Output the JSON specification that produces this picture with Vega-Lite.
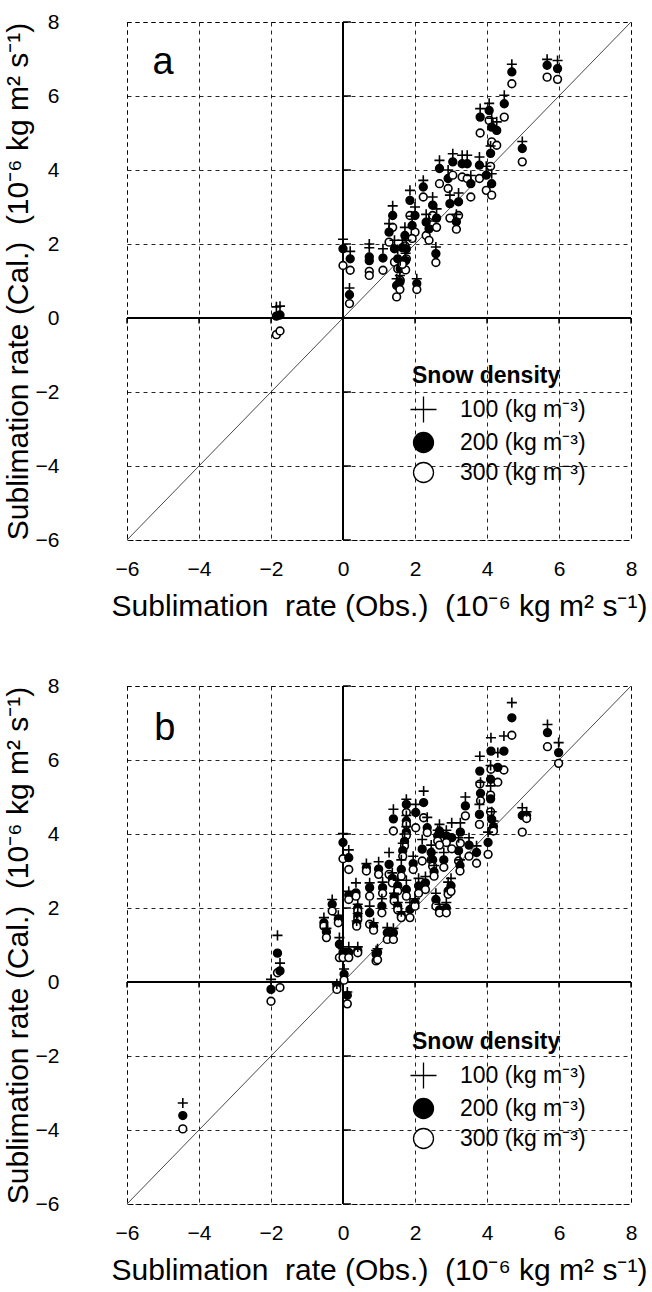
{
  "$schema": "https://vega.github.io/schema/vega-lite/v6.json",
  "background": "white",
  "padding": {"left": 2, "top": 10, "right": 0, "bottom": 0},
  "config": {
    "font": "Liberation Sans",
    "view": {"stroke": "black", "strokeDash": [4, 4], "strokeWidth": 1},
    "axis": {
      "grid": true, "gridColor": "black", "gridDash": [4, 4], "gridWidth": 1, "gridOpacity": 0.85,
      "domain": false, "ticks": false, "labelFlush": false,
      "labelFont": "Liberation Sans", "labelFontSize": 21, "labelColor": "black",
      "titleFont": "Liberation Sans", "titleFontWeight": "normal", "titleColor": "black"
    },
    "legend": {
      "titleFont": "Liberation Sans", "titleFontSize": 23, "titleFontWeight": "bold", "titleColor": "black",
      "labelFont": "Liberation Sans", "labelFontSize": 23, "labelColor": "black",
      "symbolSize": 400, "symbolStrokeWidth": 1.3, "symbolStrokeColor": "black",
      "rowPadding": 3, "labelOffset": 25, "titlePadding": 10, "padding": 0
    }
  },
  "datasets": {
    "one": [{}],
    "diag": [{"v": -6}, {"v": 8}],
    "ticks": [{"t": -6}, {"t": -4}, {"t": -2}, {"t": 0}, {"t": 2}, {"t": 4}, {"t": 6}, {"t": 8}],
    "a": [
      {"obs": -1.85, "rho": "100", "cal": 0.3}, {"obs": -1.85, "rho": "200", "cal": 0.05}, {"obs": -1.85, "rho": "300", "cal": -0.45},
      {"obs": -1.75, "rho": "100", "cal": 0.32}, {"obs": -1.75, "rho": "200", "cal": 0.08}, {"obs": -1.75, "rho": "300", "cal": -0.35},
      {"obs": 0.0, "rho": "100", "cal": 2.13}, {"obs": 0.0, "rho": "200", "cal": 1.87}, {"obs": 0.0, "rho": "300", "cal": 1.42},
      {"obs": 0.2, "rho": "100", "cal": 1.8}, {"obs": 0.2, "rho": "200", "cal": 1.6}, {"obs": 0.2, "rho": "300", "cal": 1.29},
      {"obs": 0.18, "rho": "100", "cal": 0.81}, {"obs": 0.18, "rho": "200", "cal": 0.63}, {"obs": 0.18, "rho": "300", "cal": 0.39},
      {"obs": 0.73, "rho": "100", "cal": 2.0}, {"obs": 0.73, "rho": "200", "cal": 1.65}, {"obs": 0.73, "rho": "300", "cal": 1.26},
      {"obs": 0.73, "rho": "100", "cal": 1.9}, {"obs": 0.73, "rho": "200", "cal": 1.55}, {"obs": 0.73, "rho": "300", "cal": 1.15},
      {"obs": 1.11, "rho": "100", "cal": 1.87}, {"obs": 1.11, "rho": "200", "cal": 1.62}, {"obs": 1.11, "rho": "300", "cal": 1.29},
      {"obs": 1.38, "rho": "100", "cal": 3.03}, {"obs": 1.38, "rho": "200", "cal": 2.77}, {"obs": 1.38, "rho": "300", "cal": 2.45},
      {"obs": 1.28, "rho": "100", "cal": 2.55}, {"obs": 1.28, "rho": "200", "cal": 2.32}, {"obs": 1.28, "rho": "300", "cal": 2.05},
      {"obs": 1.43, "rho": "100", "cal": 2.1}, {"obs": 1.43, "rho": "200", "cal": 1.87}, {"obs": 1.43, "rho": "300", "cal": 1.51},
      {"obs": 1.52, "rho": "100", "cal": 1.85}, {"obs": 1.52, "rho": "200", "cal": 1.6}, {"obs": 1.52, "rho": "300", "cal": 1.33},
      {"obs": 1.59, "rho": "100", "cal": 1.55}, {"obs": 1.59, "rho": "200", "cal": 1.33}, {"obs": 1.59, "rho": "300", "cal": 1.02},
      {"obs": 1.49, "rho": "100", "cal": 1.06}, {"obs": 1.49, "rho": "200", "cal": 0.88}, {"obs": 1.49, "rho": "300", "cal": 0.57},
      {"obs": 1.58, "rho": "100", "cal": 1.15}, {"obs": 1.58, "rho": "200", "cal": 0.97}, {"obs": 1.58, "rho": "300", "cal": 0.77},
      {"obs": 1.72, "rho": "100", "cal": 2.45}, {"obs": 1.72, "rho": "200", "cal": 2.23}, {"obs": 1.72, "rho": "300", "cal": 1.95},
      {"obs": 1.86, "rho": "100", "cal": 3.45}, {"obs": 1.86, "rho": "200", "cal": 3.18}, {"obs": 1.86, "rho": "300", "cal": 2.77},
      {"obs": 1.76, "rho": "100", "cal": 2.1}, {"obs": 1.76, "rho": "200", "cal": 1.87}, {"obs": 1.76, "rho": "300", "cal": 1.6},
      {"obs": 1.74, "rho": "100", "cal": 1.75}, {"obs": 1.74, "rho": "200", "cal": 1.55}, {"obs": 1.74, "rho": "300", "cal": 1.3},
      {"obs": 2.0, "rho": "100", "cal": 3.0}, {"obs": 2.0, "rho": "200", "cal": 2.77}, {"obs": 2.0, "rho": "300", "cal": 2.32},
      {"obs": 2.23, "rho": "100", "cal": 3.72}, {"obs": 2.23, "rho": "200", "cal": 3.54}, {"obs": 2.23, "rho": "300", "cal": 3.27},
      {"obs": 2.05, "rho": "100", "cal": 1.06}, {"obs": 2.05, "rho": "200", "cal": 0.93}, {"obs": 2.05, "rho": "300", "cal": 0.77},
      {"obs": 2.31, "rho": "100", "cal": 2.8}, {"obs": 2.31, "rho": "200", "cal": 2.59}, {"obs": 2.31, "rho": "300", "cal": 2.23},
      {"obs": 2.49, "rho": "100", "cal": 3.27}, {"obs": 2.49, "rho": "200", "cal": 3.05}, {"obs": 2.49, "rho": "300", "cal": 2.77},
      {"obs": 2.39, "rho": "100", "cal": 2.62}, {"obs": 2.39, "rho": "200", "cal": 2.41}, {"obs": 2.39, "rho": "300", "cal": 2.1},
      {"obs": 2.58, "rho": "100", "cal": 1.92}, {"obs": 2.58, "rho": "200", "cal": 1.74}, {"obs": 2.58, "rho": "300", "cal": 1.5},
      {"obs": 2.68, "rho": "100", "cal": 4.26}, {"obs": 2.68, "rho": "200", "cal": 4.04}, {"obs": 2.68, "rho": "300", "cal": 3.63},
      {"obs": 2.92, "rho": "100", "cal": 4.0}, {"obs": 2.92, "rho": "200", "cal": 3.77}, {"obs": 2.92, "rho": "300", "cal": 3.5},
      {"obs": 2.97, "rho": "100", "cal": 3.32}, {"obs": 2.97, "rho": "200", "cal": 3.09}, {"obs": 2.97, "rho": "300", "cal": 2.7},
      {"obs": 3.05, "rho": "100", "cal": 4.44}, {"obs": 3.05, "rho": "200", "cal": 4.22}, {"obs": 3.05, "rho": "300", "cal": 3.86},
      {"obs": 3.21, "rho": "100", "cal": 3.38}, {"obs": 3.21, "rho": "200", "cal": 3.14}, {"obs": 3.21, "rho": "300", "cal": 2.77},
      {"obs": 3.15, "rho": "100", "cal": 2.8}, {"obs": 3.15, "rho": "200", "cal": 2.6}, {"obs": 3.15, "rho": "300", "cal": 2.4},
      {"obs": 3.31, "rho": "100", "cal": 4.4}, {"obs": 3.31, "rho": "200", "cal": 4.17}, {"obs": 3.31, "rho": "300", "cal": 3.81},
      {"obs": 3.45, "rho": "100", "cal": 4.4}, {"obs": 3.45, "rho": "200", "cal": 4.17}, {"obs": 3.45, "rho": "300", "cal": 3.77},
      {"obs": 3.55, "rho": "100", "cal": 3.85}, {"obs": 3.55, "rho": "200", "cal": 3.63}, {"obs": 3.55, "rho": "300", "cal": 3.27},
      {"obs": 3.79, "rho": "100", "cal": 4.35}, {"obs": 3.79, "rho": "200", "cal": 4.13}, {"obs": 3.79, "rho": "300", "cal": 3.77},
      {"obs": 3.98, "rho": "100", "cal": 4.1}, {"obs": 3.98, "rho": "200", "cal": 3.86}, {"obs": 3.98, "rho": "300", "cal": 3.45},
      {"obs": 4.13, "rho": "100", "cal": 3.9}, {"obs": 4.13, "rho": "200", "cal": 3.63}, {"obs": 4.13, "rho": "300", "cal": 3.32},
      {"obs": 3.81, "rho": "100", "cal": 5.66}, {"obs": 3.81, "rho": "200", "cal": 5.43}, {"obs": 3.81, "rho": "300", "cal": 5.0},
      {"obs": 4.06, "rho": "100", "cal": 5.8}, {"obs": 4.06, "rho": "200", "cal": 5.61}, {"obs": 4.06, "rho": "300", "cal": 5.34},
      {"obs": 4.13, "rho": "100", "cal": 5.4}, {"obs": 4.13, "rho": "200", "cal": 5.16}, {"obs": 4.13, "rho": "300", "cal": 4.76},
      {"obs": 4.27, "rho": "100", "cal": 5.3}, {"obs": 4.27, "rho": "200", "cal": 5.07}, {"obs": 4.27, "rho": "300", "cal": 4.67},
      {"obs": 4.48, "rho": "100", "cal": 6.02}, {"obs": 4.48, "rho": "200", "cal": 5.79}, {"obs": 4.48, "rho": "300", "cal": 5.43},
      {"obs": 4.69, "rho": "100", "cal": 6.86}, {"obs": 4.69, "rho": "200", "cal": 6.65}, {"obs": 4.69, "rho": "300", "cal": 6.33},
      {"obs": 4.98, "rho": "100", "cal": 4.77}, {"obs": 4.98, "rho": "200", "cal": 4.58}, {"obs": 4.98, "rho": "300", "cal": 4.22},
      {"obs": 5.67, "rho": "100", "cal": 6.99}, {"obs": 5.67, "rho": "200", "cal": 6.83}, {"obs": 5.67, "rho": "300", "cal": 6.51},
      {"obs": 5.96, "rho": "100", "cal": 6.96}, {"obs": 5.96, "rho": "200", "cal": 6.74}, {"obs": 5.96, "rho": "300", "cal": 6.45},
      {"obs": 1.92, "rho": "100", "cal": 2.75}, {"obs": 1.92, "rho": "200", "cal": 2.5}, {"obs": 1.92, "rho": "300", "cal": 2.15},
      {"obs": 1.65, "rho": "100", "cal": 2.1}, {"obs": 1.65, "rho": "200", "cal": 1.9}, {"obs": 1.65, "rho": "300", "cal": 1.45},
      {"obs": 2.6, "rho": "100", "cal": 2.95}, {"obs": 2.6, "rho": "200", "cal": 2.7}, {"obs": 2.6, "rho": "300", "cal": 2.45},
      {"obs": 4.1, "rho": "100", "cal": 4.65}, {"obs": 4.1, "rho": "200", "cal": 4.45}, {"obs": 4.1, "rho": "300", "cal": 4.1}
    ],
    "b": [
      {"obs": 4.69, "rho": "100", "cal": 7.55}, {"obs": 4.69, "rho": "200", "cal": 7.14}, {"obs": 4.69, "rho": "300", "cal": 6.67},
      {"obs": 5.68, "rho": "100", "cal": 6.96}, {"obs": 5.68, "rho": "200", "cal": 6.74}, {"obs": 5.68, "rho": "300", "cal": 6.36},
      {"obs": 5.99, "rho": "100", "cal": 6.47}, {"obs": 5.99, "rho": "200", "cal": 6.2}, {"obs": 5.99, "rho": "300", "cal": 5.91},
      {"obs": 4.47, "rho": "100", "cal": 6.65}, {"obs": 4.47, "rho": "200", "cal": 6.24}, {"obs": 4.47, "rho": "300", "cal": 5.73},
      {"obs": 4.11, "rho": "100", "cal": 6.6}, {"obs": 4.11, "rho": "200", "cal": 6.24}, {"obs": 4.11, "rho": "300", "cal": 5.75},
      {"obs": 3.8, "rho": "100", "cal": 6.1}, {"obs": 3.8, "rho": "200", "cal": 5.7}, {"obs": 3.8, "rho": "300", "cal": 5.35},
      {"obs": 4.3, "rho": "100", "cal": 6.2}, {"obs": 4.3, "rho": "200", "cal": 5.8}, {"obs": 4.3, "rho": "300", "cal": 5.4},
      {"obs": 4.1, "rho": "100", "cal": 5.85}, {"obs": 4.1, "rho": "200", "cal": 5.48}, {"obs": 4.1, "rho": "300", "cal": 5.05},
      {"obs": 4.1, "rho": "100", "cal": 5.3}, {"obs": 4.1, "rho": "200", "cal": 4.95}, {"obs": 4.1, "rho": "300", "cal": 4.6},
      {"obs": 3.82, "rho": "100", "cal": 5.4}, {"obs": 3.82, "rho": "200", "cal": 5.1}, {"obs": 3.82, "rho": "300", "cal": 4.9},
      {"obs": 4.98, "rho": "100", "cal": 4.71}, {"obs": 4.98, "rho": "200", "cal": 4.5}, {"obs": 4.98, "rho": "300", "cal": 4.05},
      {"obs": 5.1, "rho": "100", "cal": 4.6}, {"obs": 5.1, "rho": "200", "cal": 4.5}, {"obs": 5.1, "rho": "300", "cal": 4.42},
      {"obs": 3.4, "rho": "100", "cal": 5.0}, {"obs": 3.4, "rho": "200", "cal": 4.76}, {"obs": 3.4, "rho": "300", "cal": 4.49},
      {"obs": 3.79, "rho": "100", "cal": 4.8}, {"obs": 3.79, "rho": "200", "cal": 4.53}, {"obs": 3.79, "rho": "300", "cal": 4.26},
      {"obs": 4.13, "rho": "100", "cal": 4.6}, {"obs": 4.13, "rho": "200", "cal": 4.4}, {"obs": 4.13, "rho": "300", "cal": 4.1},
      {"obs": 4.18, "rho": "100", "cal": 4.35}, {"obs": 4.18, "rho": "200", "cal": 4.2}, {"obs": 4.18, "rho": "300", "cal": 4.08},
      {"obs": 4.03, "rho": "100", "cal": 4.05}, {"obs": 4.03, "rho": "200", "cal": 3.77}, {"obs": 4.03, "rho": "300", "cal": 3.45},
      {"obs": 3.71, "rho": "100", "cal": 3.68}, {"obs": 3.71, "rho": "200", "cal": 3.5}, {"obs": 3.71, "rho": "300", "cal": 3.21},
      {"obs": 3.21, "rho": "100", "cal": 3.9}, {"obs": 3.21, "rho": "200", "cal": 3.55}, {"obs": 3.21, "rho": "300", "cal": 3.27},
      {"obs": 3.02, "rho": "100", "cal": 4.3}, {"obs": 3.02, "rho": "200", "cal": 3.9}, {"obs": 3.02, "rho": "300", "cal": 3.6},
      {"obs": 3.26, "rho": "100", "cal": 4.3}, {"obs": 3.26, "rho": "200", "cal": 4.05}, {"obs": 3.26, "rho": "300", "cal": 3.75},
      {"obs": 2.87, "rho": "100", "cal": 4.1}, {"obs": 2.87, "rho": "200", "cal": 3.95}, {"obs": 2.87, "rho": "300", "cal": 3.77},
      {"obs": 2.63, "rho": "100", "cal": 4.1}, {"obs": 2.63, "rho": "200", "cal": 3.95}, {"obs": 2.63, "rho": "300", "cal": 3.81},
      {"obs": 2.68, "rho": "100", "cal": 4.26}, {"obs": 2.68, "rho": "200", "cal": 4.08}, {"obs": 2.68, "rho": "300", "cal": 3.7},
      {"obs": 2.34, "rho": "100", "cal": 4.45}, {"obs": 2.34, "rho": "200", "cal": 4.17}, {"obs": 2.34, "rho": "300", "cal": 4.04},
      {"obs": 2.24, "rho": "100", "cal": 5.16}, {"obs": 2.24, "rho": "200", "cal": 4.85}, {"obs": 2.24, "rho": "300", "cal": 4.44},
      {"obs": 1.76, "rho": "100", "cal": 4.94}, {"obs": 1.76, "rho": "200", "cal": 4.8}, {"obs": 1.76, "rho": "300", "cal": 4.58},
      {"obs": 2.02, "rho": "100", "cal": 4.8}, {"obs": 2.02, "rho": "200", "cal": 4.58}, {"obs": 2.02, "rho": "300", "cal": 4.17},
      {"obs": 1.4, "rho": "100", "cal": 4.67}, {"obs": 1.4, "rho": "200", "cal": 4.41}, {"obs": 1.4, "rho": "300", "cal": 4.08},
      {"obs": 1.76, "rho": "100", "cal": 4.5}, {"obs": 1.76, "rho": "200", "cal": 4.35}, {"obs": 1.76, "rho": "300", "cal": 4.26},
      {"obs": 1.76, "rho": "100", "cal": 4.2}, {"obs": 1.76, "rho": "200", "cal": 4.05}, {"obs": 1.76, "rho": "300", "cal": 3.96},
      {"obs": 1.71, "rho": "100", "cal": 4.0}, {"obs": 1.71, "rho": "200", "cal": 3.8}, {"obs": 1.71, "rho": "300", "cal": 3.68},
      {"obs": 1.66, "rho": "100", "cal": 3.75}, {"obs": 1.66, "rho": "200", "cal": 3.55}, {"obs": 1.66, "rho": "300", "cal": 3.4},
      {"obs": 2.2, "rho": "100", "cal": 3.85}, {"obs": 2.2, "rho": "200", "cal": 3.59}, {"obs": 2.2, "rho": "300", "cal": 3.27},
      {"obs": 2.45, "rho": "100", "cal": 3.7}, {"obs": 2.45, "rho": "200", "cal": 3.5}, {"obs": 2.45, "rho": "300", "cal": 3.3},
      {"obs": 2.49, "rho": "100", "cal": 3.5}, {"obs": 2.49, "rho": "200", "cal": 3.3}, {"obs": 2.49, "rho": "300", "cal": 3.13},
      {"obs": 1.95, "rho": "100", "cal": 3.4}, {"obs": 1.95, "rho": "200", "cal": 3.2}, {"obs": 1.95, "rho": "300", "cal": 3.04},
      {"obs": 1.62, "rho": "100", "cal": 3.3}, {"obs": 1.62, "rho": "200", "cal": 3.04}, {"obs": 1.62, "rho": "300", "cal": 2.86},
      {"obs": 1.28, "rho": "100", "cal": 3.5}, {"obs": 1.28, "rho": "200", "cal": 3.18}, {"obs": 1.28, "rho": "300", "cal": 2.91},
      {"obs": 0.99, "rho": "100", "cal": 3.25}, {"obs": 0.99, "rho": "200", "cal": 3.05}, {"obs": 0.99, "rho": "300", "cal": 2.91},
      {"obs": 0.65, "rho": "100", "cal": 3.2}, {"obs": 0.65, "rho": "200", "cal": 3.09}, {"obs": 0.65, "rho": "300", "cal": 3.0},
      {"obs": 1.37, "rho": "100", "cal": 2.95}, {"obs": 1.37, "rho": "200", "cal": 2.8}, {"obs": 1.37, "rho": "300", "cal": 2.68},
      {"obs": 1.52, "rho": "100", "cal": 2.75}, {"obs": 1.52, "rho": "200", "cal": 2.6}, {"obs": 1.52, "rho": "300", "cal": 2.46},
      {"obs": 1.76, "rho": "100", "cal": 2.75}, {"obs": 1.76, "rho": "200", "cal": 2.5}, {"obs": 1.76, "rho": "300", "cal": 2.32},
      {"obs": 2.29, "rho": "100", "cal": 2.85}, {"obs": 2.29, "rho": "200", "cal": 2.68}, {"obs": 2.29, "rho": "300", "cal": 2.5},
      {"obs": 2.53, "rho": "100", "cal": 3.15}, {"obs": 2.53, "rho": "200", "cal": 2.98}, {"obs": 2.53, "rho": "300", "cal": 2.86},
      {"obs": 2.92, "rho": "100", "cal": 2.7}, {"obs": 2.92, "rho": "200", "cal": 2.46}, {"obs": 2.92, "rho": "300", "cal": 2.37},
      {"obs": 2.58, "rho": "100", "cal": 2.4}, {"obs": 2.58, "rho": "200", "cal": 2.23}, {"obs": 2.58, "rho": "300", "cal": 2.05},
      {"obs": 2.68, "rho": "100", "cal": 2.1}, {"obs": 2.68, "rho": "200", "cal": 1.95}, {"obs": 2.68, "rho": "300", "cal": 1.87},
      {"obs": 2.87, "rho": "100", "cal": 2.15}, {"obs": 2.87, "rho": "200", "cal": 2.0}, {"obs": 2.87, "rho": "300", "cal": 1.87},
      {"obs": 0.74, "rho": "100", "cal": 2.68}, {"obs": 0.74, "rho": "200", "cal": 2.55}, {"obs": 0.74, "rho": "300", "cal": 2.32},
      {"obs": 0.36, "rho": "100", "cal": 2.68}, {"obs": 0.36, "rho": "200", "cal": 2.41}, {"obs": 0.36, "rho": "300", "cal": 2.32},
      {"obs": 0.16, "rho": "100", "cal": 2.45}, {"obs": 0.16, "rho": "200", "cal": 2.35}, {"obs": 0.16, "rho": "300", "cal": 2.23},
      {"obs": 0.41, "rho": "100", "cal": 2.1}, {"obs": 0.41, "rho": "200", "cal": 2.0}, {"obs": 0.41, "rho": "300", "cal": 1.92},
      {"obs": 0.41, "rho": "100", "cal": 1.85}, {"obs": 0.41, "rho": "200", "cal": 1.78}, {"obs": 0.41, "rho": "300", "cal": 1.69},
      {"obs": 0.38, "rho": "100", "cal": 1.65}, {"obs": 0.38, "rho": "200", "cal": 1.58}, {"obs": 0.38, "rho": "300", "cal": 1.51},
      {"obs": 0.74, "rho": "100", "cal": 2.05}, {"obs": 0.74, "rho": "200", "cal": 1.87}, {"obs": 0.74, "rho": "300", "cal": 1.56},
      {"obs": 0.85, "rho": "100", "cal": 1.6}, {"obs": 0.85, "rho": "200", "cal": 1.5}, {"obs": 0.85, "rho": "300", "cal": 1.4},
      {"obs": 1.08, "rho": "100", "cal": 2.25}, {"obs": 1.08, "rho": "200", "cal": 2.05}, {"obs": 1.08, "rho": "300", "cal": 1.87},
      {"obs": 1.42, "rho": "100", "cal": 2.4}, {"obs": 1.42, "rho": "200", "cal": 2.3}, {"obs": 1.42, "rho": "300", "cal": 2.19},
      {"obs": 1.52, "rho": "100", "cal": 2.15}, {"obs": 1.52, "rho": "200", "cal": 2.05}, {"obs": 1.52, "rho": "300", "cal": 1.95},
      {"obs": 1.62, "rho": "100", "cal": 1.9}, {"obs": 1.62, "rho": "200", "cal": 1.8}, {"obs": 1.62, "rho": "300", "cal": 1.74},
      {"obs": 1.86, "rho": "100", "cal": 2.15}, {"obs": 1.86, "rho": "200", "cal": 1.96}, {"obs": 1.86, "rho": "300", "cal": 1.74},
      {"obs": 2.0, "rho": "100", "cal": 2.25}, {"obs": 2.0, "rho": "200", "cal": 2.15}, {"obs": 2.0, "rho": "300", "cal": 2.05},
      {"obs": 1.23, "rho": "100", "cal": 1.47}, {"obs": 1.23, "rho": "200", "cal": 1.33}, {"obs": 1.23, "rho": "300", "cal": 1.15},
      {"obs": 1.4, "rho": "100", "cal": 1.45}, {"obs": 1.4, "rho": "200", "cal": 1.33}, {"obs": 1.4, "rho": "300", "cal": 1.15},
      {"obs": -0.3, "rho": "100", "cal": 2.23}, {"obs": -0.3, "rho": "200", "cal": 2.1}, {"obs": -0.3, "rho": "300", "cal": 1.92},
      {"obs": -0.53, "rho": "100", "cal": 1.74}, {"obs": -0.53, "rho": "200", "cal": 1.6}, {"obs": -0.53, "rho": "300", "cal": 1.51},
      {"obs": -0.46, "rho": "100", "cal": 1.45}, {"obs": -0.46, "rho": "200", "cal": 1.35}, {"obs": -0.46, "rho": "300", "cal": 1.2},
      {"obs": -0.13, "rho": "100", "cal": 1.8}, {"obs": -0.13, "rho": "200", "cal": 1.7}, {"obs": -0.13, "rho": "300", "cal": 1.6},
      {"obs": -0.1, "rho": "100", "cal": 1.2}, {"obs": -0.1, "rho": "200", "cal": 1.02}, {"obs": -0.1, "rho": "300", "cal": 0.66},
      {"obs": 0.0, "rho": "100", "cal": 0.9}, {"obs": 0.0, "rho": "200", "cal": 0.8}, {"obs": 0.0, "rho": "300", "cal": 0.66},
      {"obs": 0.16, "rho": "100", "cal": 0.95}, {"obs": 0.16, "rho": "200", "cal": 0.8}, {"obs": 0.16, "rho": "300", "cal": 0.66},
      {"obs": 0.41, "rho": "100", "cal": 0.95}, {"obs": 0.41, "rho": "200", "cal": 0.85}, {"obs": 0.41, "rho": "300", "cal": 0.79},
      {"obs": 0.92, "rho": "100", "cal": 0.85}, {"obs": 0.92, "rho": "200", "cal": 0.75}, {"obs": 0.92, "rho": "300", "cal": 0.57},
      {"obs": 0.0, "rho": "100", "cal": 4.01}, {"obs": 0.0, "rho": "200", "cal": 3.77}, {"obs": 0.0, "rho": "300", "cal": 3.33},
      {"obs": 0.16, "rho": "100", "cal": 3.57}, {"obs": 0.16, "rho": "200", "cal": 3.36}, {"obs": 0.16, "rho": "300", "cal": 3.04},
      {"obs": -1.82, "rho": "100", "cal": 1.26}, {"obs": -1.82, "rho": "200", "cal": 0.78}, {"obs": -1.82, "rho": "300", "cal": 0.25},
      {"obs": -1.75, "rho": "100", "cal": 0.51}, {"obs": -1.75, "rho": "200", "cal": 0.3}, {"obs": -1.75, "rho": "300", "cal": -0.15},
      {"obs": -2.0, "rho": "100", "cal": 0.07}, {"obs": -2.0, "rho": "200", "cal": -0.2}, {"obs": -2.0, "rho": "300", "cal": -0.52},
      {"obs": -4.45, "rho": "100", "cal": -3.27}, {"obs": -4.45, "rho": "200", "cal": -3.61}, {"obs": -4.45, "rho": "300", "cal": -3.97},
      {"obs": -0.17, "rho": "100", "cal": -0.05}, {"obs": -0.17, "rho": "200", "cal": -0.11}, {"obs": -0.17, "rho": "300", "cal": -0.2},
      {"obs": 0.03, "rho": "100", "cal": 0.35}, {"obs": 0.03, "rho": "200", "cal": 0.21}, {"obs": 0.03, "rho": "300", "cal": 0.05},
      {"obs": 0.12, "rho": "100", "cal": -0.27}, {"obs": 0.12, "rho": "200", "cal": -0.36}, {"obs": 0.12, "rho": "300", "cal": -0.59},
      {"obs": 0.96, "rho": "100", "cal": 0.9}, {"obs": 0.96, "rho": "200", "cal": 0.8}, {"obs": 0.96, "rho": "300", "cal": 0.6},
      {"obs": 3.0, "rho": "100", "cal": 2.8}, {"obs": 3.0, "rho": "200", "cal": 2.6}, {"obs": 3.0, "rho": "300", "cal": 2.45},
      {"obs": 3.5, "rho": "100", "cal": 3.9}, {"obs": 3.5, "rho": "200", "cal": 3.7}, {"obs": 3.5, "rho": "300", "cal": 3.4},
      {"obs": 2.8, "rho": "100", "cal": 3.5}, {"obs": 2.8, "rho": "200", "cal": 3.3}, {"obs": 2.8, "rho": "300", "cal": 3.1},
      {"obs": 1.1, "rho": "100", "cal": 2.7}, {"obs": 1.1, "rho": "200", "cal": 2.55}, {"obs": 1.1, "rho": "300", "cal": 2.4},
      {"obs": 2.1, "rho": "100", "cal": 2.8}, {"obs": 2.1, "rho": "200", "cal": 2.6}, {"obs": 2.1, "rho": "300", "cal": 2.4},
      {"obs": 3.25, "rho": "100", "cal": 3.3}, {"obs": 3.25, "rho": "200", "cal": 3.15}, {"obs": 3.25, "rho": "300", "cal": 3.0}
    ]
  },
  "spacing": 52,
  "resolve": {
    "scale": {"x": "independent", "y": "independent", "shape": "independent", "fill": "independent", "stroke": "independent"},
    "legend": {"shape": "independent", "fill": "independent", "stroke": "independent"}
  },
  "vconcat": [
    {
      "width": 504, "height": 518,
      "layer": [
        {
          "data": {"name": "ticks"},
          "mark": {"type": "rule", "color": "black", "strokeWidth": 1.5},
          "encoding": {
            "y": {"field": "t", "type": "quantitative", "scale": {"domain": [-6, 8], "nice": false},
                  "axis": {"values": [-6, -4, -2, 0, 2, 4, 6, 8], "offset": 66, "labelPadding": 2, "titlePadding": 2, "titleFontSize": 30, "title": "Sublimation rate (Cal.)\u00a0 (10⁻⁶ kg m² s⁻¹)"}},
            "x": {"datum": 0, "type": "quantitative", "scale": {"domain": [-6, 8], "nice": false},
                  "axis": {"values": [-6, -4, -2, 0, 2, 4, 6, 8], "labelPadding": 18, "titlePadding": 12, "titleFontSize": 30, "title": "Sublimation\u00a0 rate (Obs.)\u00a0 (10⁻⁶ kg m² s⁻¹)"}},
            "x2": {"datum": 0.22}
          }
        },
        {
          "data": {"name": "ticks"},
          "mark": {"type": "rule", "color": "black", "strokeWidth": 1.5},
          "encoding": {
            "x": {"field": "t", "type": "quantitative",
                  "axis": {"values": [-6, -4, -2, 0, 2, 4, 6, 8], "labelPadding": 18, "titlePadding": 12, "titleFontSize": 30, "title": "Sublimation\u00a0 rate (Obs.)\u00a0 (10⁻⁶ kg m² s⁻¹)"}},
            "y": {"datum": 0, "type": "quantitative",
                  "axis": {"values": [-6, -4, -2, 0, 2, 4, 6, 8], "offset": 66, "labelPadding": 2, "titlePadding": 2, "titleFontSize": 30, "title": "Sublimation rate (Cal.)\u00a0 (10⁻⁶ kg m² s⁻¹)"}},
            "y2": {"datum": -0.15}
          }
        },
        {
          "data": {"name": "diag"},
          "mark": {"type": "line", "color": "#333333", "strokeWidth": 0.9},
          "encoding": {
            "x": {"field": "v", "type": "quantitative",
                  "axis": {"values": [-6, -4, -2, 0, 2, 4, 6, 8], "labelPadding": 18, "titlePadding": 12, "titleFontSize": 30, "title": "Sublimation\u00a0 rate (Obs.)\u00a0 (10⁻⁶ kg m² s⁻¹)"}},
            "y": {"field": "v", "type": "quantitative",
                  "axis": {"values": [-6, -4, -2, 0, 2, 4, 6, 8], "offset": 66, "labelPadding": 2, "titlePadding": 2, "titleFontSize": 30, "title": "Sublimation rate (Cal.)\u00a0 (10⁻⁶ kg m² s⁻¹)"}}
          }
        },
        {
          "data": {"name": "one"},
          "mark": {"type": "rule", "color": "black", "strokeWidth": 2},
          "encoding": {"x": {"datum": 0, "type": "quantitative",
                  "axis": {"values": [-6, -4, -2, 0, 2, 4, 6, 8], "labelPadding": 18, "titlePadding": 12, "titleFontSize": 30, "title": "Sublimation\u00a0 rate (Obs.)\u00a0 (10⁻⁶ kg m² s⁻¹)"}}}
        },
        {
          "data": {"name": "one"},
          "mark": {"type": "rule", "color": "black", "strokeWidth": 2},
          "encoding": {"y": {"datum": 0, "type": "quantitative",
                  "axis": {"values": [-6, -4, -2, 0, 2, 4, 6, 8], "offset": 66, "labelPadding": 2, "titlePadding": 2, "titleFontSize": 30, "title": "Sublimation rate (Cal.)\u00a0 (10⁻⁶ kg m² s⁻¹)"}}}
        },
        {
          "data": {"name": "a"},
          "transform": [{"filter": "datum.rho != '100'"}],
          "mark": {"type": "point", "strokeWidth": 1.6, "opacity": 1, "size": 60},
          "encoding": {
            "x": {"field": "obs", "type": "quantitative",
                  "axis": {"values": [-6, -4, -2, 0, 2, 4, 6, 8], "labelPadding": 18, "titlePadding": 12, "titleFontSize": 30, "title": "Sublimation\u00a0 rate (Obs.)\u00a0 (10⁻⁶ kg m² s⁻¹)"}},
            "y": {"field": "cal", "type": "quantitative",
                  "axis": {"values": [-6, -4, -2, 0, 2, 4, 6, 8], "offset": 66, "labelPadding": 2, "titlePadding": 2, "titleFontSize": 30, "title": "Sublimation rate (Cal.)\u00a0 (10⁻⁶ kg m² s⁻¹)"}},
            "shape": {"field": "rho", "type": "nominal",
                      "scale": {"domain": ["100", "200", "300"], "range": ["M-1.3,0L1.3,0M0,-1.3L0,1.3", "circle", "circle"]},
                      "legend": {"title": "Snow density", "orient": "none", "legendX": 285, "legendY": 343, "labelExpr": "datum.label + ' (kg m⁻³)'"}},
            "fill": {"field": "rho", "type": "nominal",
                     "scale": {"domain": ["100", "200", "300"], "range": ["white", "black", "white"]},
                     "legend": {"title": "Snow density", "orient": "none", "legendX": 285, "legendY": 343, "labelExpr": "datum.label + ' (kg m⁻³)'"}},
            "stroke": {"field": "rho", "type": "nominal",
                     "scale": {"domain": ["100", "200", "300"], "range": ["black", "black", "black"]},
                     "legend": {"title": "Snow density", "orient": "none", "legendX": 285, "legendY": 343, "labelExpr": "datum.label + ' (kg m⁻³)'"}}
          }
        },
        {
          "data": {"name": "a"},
          "transform": [{"filter": "datum.rho == '100'"}],
          "mark": {"type": "point", "strokeWidth": 1.6, "opacity": 1, "size": 60},
          "encoding": {
            "x": {"field": "obs", "type": "quantitative",
                  "axis": {"values": [-6, -4, -2, 0, 2, 4, 6, 8], "labelPadding": 18, "titlePadding": 12, "titleFontSize": 30, "title": "Sublimation\u00a0 rate (Obs.)\u00a0 (10⁻⁶ kg m² s⁻¹)"}},
            "y": {"field": "cal", "type": "quantitative",
                  "axis": {"values": [-6, -4, -2, 0, 2, 4, 6, 8], "offset": 66, "labelPadding": 2, "titlePadding": 2, "titleFontSize": 30, "title": "Sublimation rate (Cal.)\u00a0 (10⁻⁶ kg m² s⁻¹)"}},
            "shape": {"field": "rho", "type": "nominal",
                      "scale": {"domain": ["100", "200", "300"], "range": ["M-1.3,0L1.3,0M0,-1.3L0,1.3", "circle", "circle"]},
                      "legend": {"title": "Snow density", "orient": "none", "legendX": 285, "legendY": 343, "labelExpr": "datum.label + ' (kg m⁻³)'"}},
            "fill": {"field": "rho", "type": "nominal",
                     "scale": {"domain": ["100", "200", "300"], "range": ["white", "black", "white"]},
                     "legend": {"title": "Snow density", "orient": "none", "legendX": 285, "legendY": 343, "labelExpr": "datum.label + ' (kg m⁻³)'"}},
            "stroke": {"field": "rho", "type": "nominal",
                     "scale": {"domain": ["100", "200", "300"], "range": ["black", "black", "black"]},
                     "legend": {"title": "Snow density", "orient": "none", "legendX": 285, "legendY": 343, "labelExpr": "datum.label + ' (kg m⁻³)'"}}
          }
        },
        {
          "data": {"name": "one"},
          "mark": {"type": "text", "text": "a", "fontSize": 38, "font": "Liberation Sans", "align": "center", "baseline": "alphabetic", "color": "black"},
          "encoding": {
            "x": {"datum": -5.0, "type": "quantitative",
                  "axis": {"values": [-6, -4, -2, 0, 2, 4, 6, 8], "labelPadding": 18, "titlePadding": 12, "titleFontSize": 30, "title": "Sublimation\u00a0 rate (Obs.)\u00a0 (10⁻⁶ kg m² s⁻¹)"}},
            "y": {"datum": 6.59, "type": "quantitative",
                  "axis": {"values": [-6, -4, -2, 0, 2, 4, 6, 8], "offset": 66, "labelPadding": 2, "titlePadding": 2, "titleFontSize": 30, "title": "Sublimation rate (Cal.)\u00a0 (10⁻⁶ kg m² s⁻¹)"}}
          }
        }
      ]
    },
    {
      "width": 504, "height": 518,
      "layer": [
        {
          "data": {"name": "ticks"},
          "mark": {"type": "rule", "color": "black", "strokeWidth": 1.5},
          "encoding": {
            "y": {"field": "t", "type": "quantitative", "scale": {"domain": [-6, 8], "nice": false},
                  "axis": {"values": [-6, -4, -2, 0, 2, 4, 6, 8], "offset": 66, "labelPadding": 2, "titlePadding": 2, "titleFontSize": 30, "title": "Sublimation rate (Cal.)\u00a0 (10⁻⁶ kg m² s⁻¹)"}},
            "x": {"datum": 0, "type": "quantitative", "scale": {"domain": [-6, 8], "nice": false},
                  "axis": {"values": [-6, -4, -2, 0, 2, 4, 6, 8], "labelPadding": 18, "titlePadding": 12, "titleFontSize": 30, "title": "Sublimation\u00a0 rate (Obs.)\u00a0 (10⁻⁶ kg m² s⁻¹)"}},
            "x2": {"datum": 0.22}
          }
        },
        {
          "data": {"name": "ticks"},
          "mark": {"type": "rule", "color": "black", "strokeWidth": 1.5},
          "encoding": {
            "x": {"field": "t", "type": "quantitative",
                  "axis": {"values": [-6, -4, -2, 0, 2, 4, 6, 8], "labelPadding": 18, "titlePadding": 12, "titleFontSize": 30, "title": "Sublimation\u00a0 rate (Obs.)\u00a0 (10⁻⁶ kg m² s⁻¹)"}},
            "y": {"datum": 0, "type": "quantitative",
                  "axis": {"values": [-6, -4, -2, 0, 2, 4, 6, 8], "offset": 66, "labelPadding": 2, "titlePadding": 2, "titleFontSize": 30, "title": "Sublimation rate (Cal.)\u00a0 (10⁻⁶ kg m² s⁻¹)"}},
            "y2": {"datum": -0.15}
          }
        },
        {
          "data": {"name": "diag"},
          "mark": {"type": "line", "color": "#333333", "strokeWidth": 0.9},
          "encoding": {
            "x": {"field": "v", "type": "quantitative",
                  "axis": {"values": [-6, -4, -2, 0, 2, 4, 6, 8], "labelPadding": 18, "titlePadding": 12, "titleFontSize": 30, "title": "Sublimation\u00a0 rate (Obs.)\u00a0 (10⁻⁶ kg m² s⁻¹)"}},
            "y": {"field": "v", "type": "quantitative",
                  "axis": {"values": [-6, -4, -2, 0, 2, 4, 6, 8], "offset": 66, "labelPadding": 2, "titlePadding": 2, "titleFontSize": 30, "title": "Sublimation rate (Cal.)\u00a0 (10⁻⁶ kg m² s⁻¹)"}}
          }
        },
        {
          "data": {"name": "one"},
          "mark": {"type": "rule", "color": "black", "strokeWidth": 2},
          "encoding": {"x": {"datum": 0, "type": "quantitative",
                  "axis": {"values": [-6, -4, -2, 0, 2, 4, 6, 8], "labelPadding": 18, "titlePadding": 12, "titleFontSize": 30, "title": "Sublimation\u00a0 rate (Obs.)\u00a0 (10⁻⁶ kg m² s⁻¹)"}}}
        },
        {
          "data": {"name": "one"},
          "mark": {"type": "rule", "color": "black", "strokeWidth": 2},
          "encoding": {"y": {"datum": 0, "type": "quantitative",
                  "axis": {"values": [-6, -4, -2, 0, 2, 4, 6, 8], "offset": 66, "labelPadding": 2, "titlePadding": 2, "titleFontSize": 30, "title": "Sublimation rate (Cal.)\u00a0 (10⁻⁶ kg m² s⁻¹)"}}}
        },
        {
          "data": {"name": "b"},
          "transform": [{"filter": "datum.rho != '100'"}],
          "mark": {"type": "point", "strokeWidth": 1.6, "opacity": 1, "size": 60},
          "encoding": {
            "x": {"field": "obs", "type": "quantitative",
                  "axis": {"values": [-6, -4, -2, 0, 2, 4, 6, 8], "labelPadding": 18, "titlePadding": 12, "titleFontSize": 30, "title": "Sublimation\u00a0 rate (Obs.)\u00a0 (10⁻⁶ kg m² s⁻¹)"}},
            "y": {"field": "cal", "type": "quantitative",
                  "axis": {"values": [-6, -4, -2, 0, 2, 4, 6, 8], "offset": 66, "labelPadding": 2, "titlePadding": 2, "titleFontSize": 30, "title": "Sublimation rate (Cal.)\u00a0 (10⁻⁶ kg m² s⁻¹)"}},
            "shape": {"field": "rho", "type": "nominal",
                      "scale": {"domain": ["100", "200", "300"], "range": ["M-1.3,0L1.3,0M0,-1.3L0,1.3", "circle", "circle"]},
                      "legend": {"title": "Snow density", "orient": "none", "legendX": 285, "legendY": 345, "labelExpr": "datum.label + ' (kg m⁻³)'"}},
            "fill": {"field": "rho", "type": "nominal",
                     "scale": {"domain": ["100", "200", "300"], "range": ["white", "black", "white"]},
                     "legend": {"title": "Snow density", "orient": "none", "legendX": 285, "legendY": 345, "labelExpr": "datum.label + ' (kg m⁻³)'"}},
            "stroke": {"field": "rho", "type": "nominal",
                     "scale": {"domain": ["100", "200", "300"], "range": ["black", "black", "black"]},
                     "legend": {"title": "Snow density", "orient": "none", "legendX": 285, "legendY": 345, "labelExpr": "datum.label + ' (kg m⁻³)'"}}
          }
        },
        {
          "data": {"name": "b"},
          "transform": [{"filter": "datum.rho == '100'"}],
          "mark": {"type": "point", "strokeWidth": 1.6, "opacity": 1, "size": 60},
          "encoding": {
            "x": {"field": "obs", "type": "quantitative",
                  "axis": {"values": [-6, -4, -2, 0, 2, 4, 6, 8], "labelPadding": 18, "titlePadding": 12, "titleFontSize": 30, "title": "Sublimation\u00a0 rate (Obs.)\u00a0 (10⁻⁶ kg m² s⁻¹)"}},
            "y": {"field": "cal", "type": "quantitative",
                  "axis": {"values": [-6, -4, -2, 0, 2, 4, 6, 8], "offset": 66, "labelPadding": 2, "titlePadding": 2, "titleFontSize": 30, "title": "Sublimation rate (Cal.)\u00a0 (10⁻⁶ kg m² s⁻¹)"}},
            "shape": {"field": "rho", "type": "nominal",
                      "scale": {"domain": ["100", "200", "300"], "range": ["M-1.3,0L1.3,0M0,-1.3L0,1.3", "circle", "circle"]},
                      "legend": {"title": "Snow density", "orient": "none", "legendX": 285, "legendY": 345, "labelExpr": "datum.label + ' (kg m⁻³)'"}},
            "fill": {"field": "rho", "type": "nominal",
                     "scale": {"domain": ["100", "200", "300"], "range": ["white", "black", "white"]},
                     "legend": {"title": "Snow density", "orient": "none", "legendX": 285, "legendY": 345, "labelExpr": "datum.label + ' (kg m⁻³)'"}},
            "stroke": {"field": "rho", "type": "nominal",
                     "scale": {"domain": ["100", "200", "300"], "range": ["black", "black", "black"]},
                     "legend": {"title": "Snow density", "orient": "none", "legendX": 285, "legendY": 345, "labelExpr": "datum.label + ' (kg m⁻³)'"}}
          }
        },
        {
          "data": {"name": "one"},
          "mark": {"type": "text", "text": "b", "fontSize": 38, "font": "Liberation Sans", "align": "center", "baseline": "alphabetic", "color": "black"},
          "encoding": {
            "x": {"datum": -4.95, "type": "quantitative",
                  "axis": {"values": [-6, -4, -2, 0, 2, 4, 6, 8], "labelPadding": 18, "titlePadding": 12, "titleFontSize": 30, "title": "Sublimation\u00a0 rate (Obs.)\u00a0 (10⁻⁶ kg m² s⁻¹)"}},
            "y": {"datum": 6.53, "type": "quantitative",
                  "axis": {"values": [-6, -4, -2, 0, 2, 4, 6, 8], "offset": 66, "labelPadding": 2, "titlePadding": 2, "titleFontSize": 30, "title": "Sublimation rate (Cal.)\u00a0 (10⁻⁶ kg m² s⁻¹)"}}
          }
        }
      ]
    }
  ]
}
